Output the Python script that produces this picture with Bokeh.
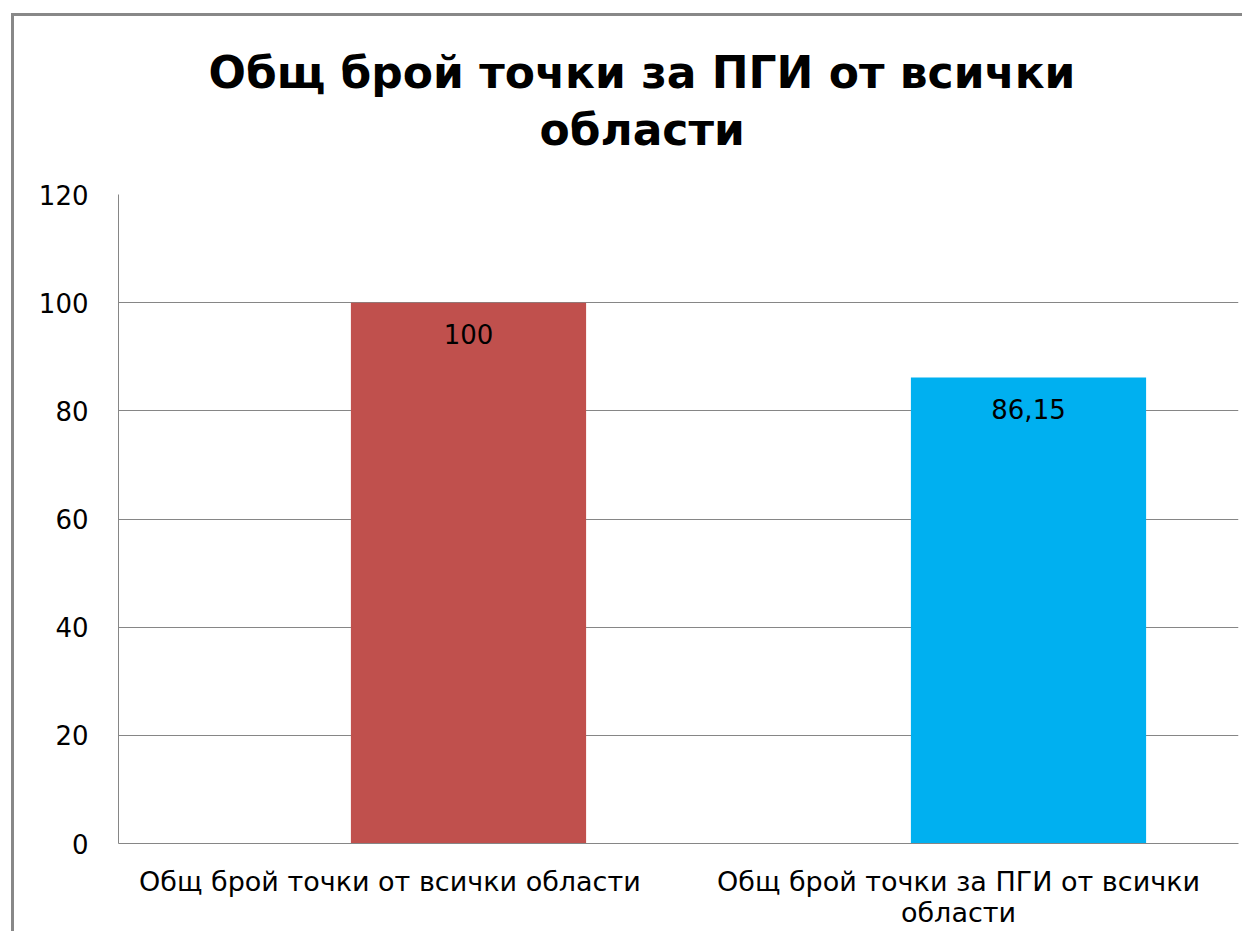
from bokeh.plotting import figure
from bokeh.models import Range1d, FactorRange, ColumnDataSource, Title, FixedTicker
from bokeh.transform import dodge
from bokeh.core.properties import value
from bokeh.embed import file_html
from bokeh.resources import INLINE

categories = ["Общ брой точки   от всички области", "Общ брой точки за ПГИ от всички\nобласти"]
values = [100, 86.15]
colors = ["#C0504D", "#00B0F0"]
y_ticks = [0, 20, 40, 60, 80, 100, 120]
title_lines = ["Общ брой точки за ПГИ от всички", "области"]

labels = [f"{v:g}".replace(".", ",") for v in values]
src = ColumnDataSource(dict(cat=categories, val=values, color=colors, lab=labels))

FONT = "DejaVu Sans"

bg = ("linear-gradient(#888888,#888888) 11px 13px / 3px 100% no-repeat, "
      "linear-gradient(#888888,#888888) 11px 13px / 100% 3px no-repeat, white")

p = figure(frame_width=1120, frame_height=649, x_range=FactorRange(factors=categories),
           y_range=Range1d(0, 120), output_backend="svg", toolbar_location=None,
           min_border_left=118, min_border_right=4, min_border_top=194, min_border_bottom=84,
           styles={"background": bg})
p.outline_line_color = None
p.background_fill_color = "white"
p.border_fill_color = None

p.vbar(x=dodge("cat", 0.125, range=p.x_range), top="val", width=0.42, bottom=0,
       fill_color="color", line_color=None, source=src)
p.text(x=dodge("cat", 0.125, range=p.x_range), y="val", text="lab", source=src,
       text_align="center", text_baseline="middle", y_offset=31,
       text_font=value(FONT), text_font_size="26px", text_color="#000000")

# spacing between title block and plot area
spacer = Title(text=" ", text_font_size="1px", standoff=32)
t2 = Title(text=title_lines[1], align="left", offset=421, text_font=FONT, text_font_size="44px",
           text_font_style="bold", text_color="#000000", standoff=9)
t1 = Title(text=title_lines[0], align="left", offset=90, text_font=FONT, text_font_size="44px",
           text_font_style="bold", text_color="#000000", standoff=0)
p.title = None
p.add_layout(spacer, "above")
p.add_layout(t2, "above")
p.add_layout(t1, "above")

p.yaxis.ticker = FixedTicker(ticks=y_ticks)
p.yaxis.major_tick_line_color = None
p.yaxis.minor_tick_line_color = None
p.yaxis.axis_line_color = "#868686"
p.yaxis.major_label_standoff = 24
p.yaxis.major_label_text_font = FONT
p.yaxis.major_label_text_font_size = "26px"
p.yaxis.major_label_text_color = "#000000"

p.xaxis.major_tick_line_color = None
p.xaxis.minor_tick_line_color = None
p.xaxis.axis_line_color = "#868686"
p.xaxis.major_label_standoff = 16
p.xaxis.major_label_text_font = FONT
p.xaxis.major_label_text_font_size = "27px"
p.xaxis.major_label_text_color = "#000000"
p.xaxis.major_label_text_line_height = 1.02
p.xaxis.major_label_orientation = "horizontal"

p.xgrid.grid_line_color = None
p.ygrid.grid_line_color = "#868686"
p.ygrid.grid_line_width = 1

open("out.html", "w").write(file_html(p, INLINE))
